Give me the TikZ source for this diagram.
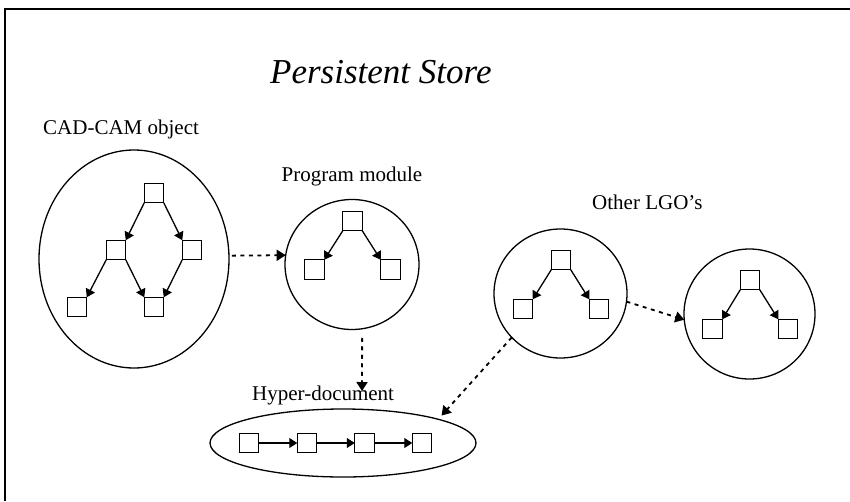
\documentclass[tikz,border=0pt]{standalone}
\usepackage{fontspec}
\setmainfont{Liberation Serif}
\usetikzlibrary{shapes.geometric,arrows.meta}

\tikzset{
  frameline/.style={line width=2.2pt},
  blob/.style={ellipse, draw, line width=1.3pt, inner sep=0pt, outer sep=0pt},
  box/.style={draw, line width=1.3pt, minimum size=19.5pt, inner sep=0pt, outer sep=0pt, fill=white},
  link/.style={line width=1.3pt, -{Triangle[length=8pt,width=10pt]}},
  dotlink/.style={line width=1.8pt, dash pattern=on 4pt off 4.5pt, -{Triangle[length=9pt,width=11pt]}},
  lbl/.style={inner sep=0pt, font=\fontsize{21}{25}\selectfont},
}

\begin{document}
\begin{tikzpicture}[x=1pt, y=-1pt]
  \useasboundingbox (0,0) rectangle (850,501);

  % frame (top and left edges)
  \draw[frameline] (5,501) -- (5,9) -- (851,9);

  % title and labels
  \node[inner sep=0pt, anchor=base west, font=\fontsize{35}{40}\selectfont\itshape] (title) at (270,83) {Persistent Store};
  \node[lbl, anchor=base west] (cadlbl) at (43,134) {CAD-CAM object};
  \node[lbl, anchor=base] (pmlbl) at (352,181) {Program module};
  \node[lbl, anchor=base west] (lgolbl) at (592,209) {Other LGO’s};
  \node[lbl, anchor=base west] (hyperlbl) at (252,400) {Hyper-document};

  % containers
  \node[blob, minimum width=190pt, minimum height=218pt] (cad) at (134,259) {};
  \node[blob, minimum width=134pt, minimum height=130pt] (pm) at (352,264.5) {};
  \node[blob, minimum width=133pt, minimum height=129pt] (lgoa) at (560.5,293.5) {};
  \node[blob, minimum width=131pt, minimum height=130pt] (lgob) at (749.5,314) {};
  \node[blob, minimum width=266pt, minimum height=68pt] (hyper) at (343,443) {};

  % CAD-CAM object graph
  \node[box] (c1) at (154,193) {};
  \node[box] (c2) at (116,250) {};
  \node[box] (c3) at (192,250) {};
  \node[box] (c4) at (77,307) {};
  \node[box] (c5) at (154,307) {};
  \draw[link] (c1.south west) -- (c2.north east);
  \draw[link] (c1.south east) -- (c3.north west);
  \draw[link] (c2.south west) -- (c4.north east);
  \draw[link] (c2.south east) -- (c5.north west);
  \draw[link] (c3.south west) -- (c5.north east);

  % program module tree
  \node[box] (p1) at (352.5,221) {};
  \node[box] (p2) at (314.5,269.5) {};
  \node[box] (p3) at (390.5,269.5) {};
  \draw[link] (p1.south west) -- (p2.north east);
  \draw[link] (p1.south east) -- (p3.north west);

  % first LGO tree
  \node[box] (a1) at (561,260) {};
  \node[box] (a2) at (523,309) {};
  \node[box] (a3) at (599,309) {};
  \draw[link] (a1.south west) -- (a2.north east);
  \draw[link] (a1.south east) -- (a3.north west);

  % second LGO tree
  \node[box] (b1) at (750,280) {};
  \node[box] (b2) at (712.5,329) {};
  \node[box] (b3) at (788,329) {};
  \draw[link] (b1.south west) -- (b2.north east);
  \draw[link] (b1.south east) -- (b3.north west);

  % hyper-document chain
  \node[box] (h1) at (249,443) {};
  \node[box] (h2) at (307,443) {};
  \node[box] (h3) at (364.5,443) {};
  \node[box] (h4) at (422,443) {};
  \draw[link] (h1) -- (h2);
  \draw[link] (h2) -- (h3);
  \draw[link] (h3) -- (h4);

  % references between objects
  \coordinate (pmtip) at (362,391);
  \draw[dotlink, shorten <=3pt] (cad.2) -- (pm.172);
  \draw[dotlink, shorten <=9pt] (pm.-81) -- (pmtip);
  \draw[dotlink] (lgoa.-7) -- (lgob.185);
  \draw[dotlink, shorten >=5pt] (lgoa.222) -- (hyper.14);
\end{tikzpicture}
\end{document}
